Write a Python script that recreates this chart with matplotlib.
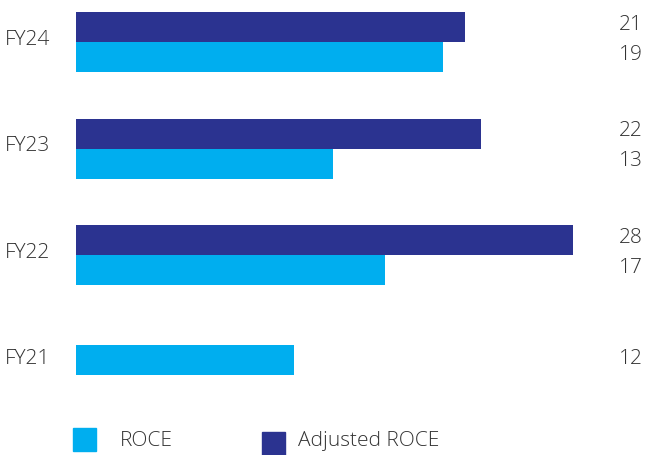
import matplotlib
matplotlib.use("Agg")
import matplotlib.pyplot as plt
from matplotlib.patches import Rectangle
import matplotlib.transforms as mtransforms

# data (top to bottom)
years = ["FY24", "FY23", "FY22", "FY21"]
adjusted_roce = [21.9, 22.8, 28.0, None]   # bar lengths as drawn
roce = [20.7, 14.5, 17.4, 12.3]
adjusted_labels = ["21", "22", "28", None]
roce_labels = ["19", "13", "17", "12"]

dark = "#2B3390"
light = "#00AEEF"
txt = "#333333"

plt.rcParams["font.family"] = ["Open Sans", "DejaVu Sans"]

W, H = 646, 455
fig = plt.figure(figsize=(W / 100, H / 100), dpi=100)

x0, xmax, px_per_unit = 76, 30, 17.75
ax = fig.add_axes([x0 / W, 0, xmax * px_per_unit / W, 1])
step = 106.5      # px between categories
top = 42          # px of first category boundary
ax.set_xlim(0, xmax)
ax.set_ylim((H - top) / step, -top / step)
ax.axis("off")

bh = 30 / step
fs = 15
for i, yr in enumerate(years):
    if adjusted_roce[i] is not None:
        ax.barh(i, adjusted_roce[i], height=-bh, align="edge", color=dark)
        ax.barh(i, roce[i], height=bh, align="edge", color=light)
    else:
        ax.barh(i - 2 / step, roce[i], height=bh, align="center", color=light)

tr = mtransforms.blended_transform_factory(fig.transFigure, ax.transData)
for i, yr in enumerate(years):
    ax.text(5 / W, i - 0.02, yr, transform=tr, ha="left", va="center",
            fontsize=fs, color=txt, fontweight="light")
    if adjusted_labels[i] is not None:
        ax.text(643 / W, i - 0.16, adjusted_labels[i], transform=tr, ha="right",
                va="center", fontsize=fs, color=txt, fontweight="light")
        ax.text(643 / W, i + 0.12, roce_labels[i], transform=tr, ha="right",
                va="center", fontsize=fs, color=txt, fontweight="light")
    else:
        ax.text(643 / W, i - 0.02, roce_labels[i], transform=tr, ha="right",
                va="center", fontsize=fs, color=txt, fontweight="light")

# legend
def fy(p):
    return 1 - p / H

fig.add_artist(Rectangle((73 / W, fy(451)), 23 / W, 23 / H,
                         transform=fig.transFigure, color=light))
fig.text(120 / W, fy(441), "ROCE", ha="left", va="center", fontsize=fs,
         color=txt, fontweight="light")
fig.add_artist(Rectangle((262 / W, fy(455)), 23 / W, 23 / H,
                         transform=fig.transFigure, color=dark))
fig.text(298 / W, fy(441), "Adjusted ROCE", ha="left", va="center", fontsize=fs,
         color=txt, fontweight="light")

fig.savefig("out.png", dpi=100)
